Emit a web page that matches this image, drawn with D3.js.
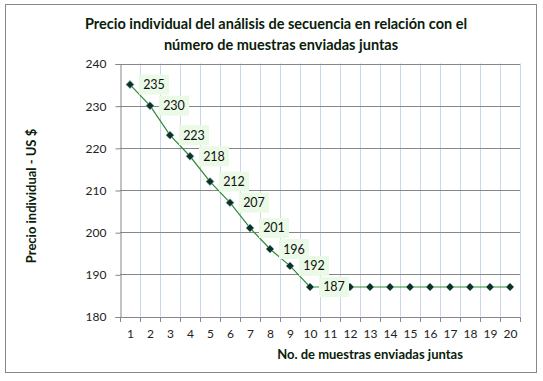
<!DOCTYPE html>
<html>
<head>
<meta charset="utf-8">
<script src="https://cdn.jsdelivr.net/npm/d3@7"></script>
<style>
  body { margin: 0; background: #fff; }
  svg { display: block; font-family: Lato, "Open Sans", sans-serif; }
</style>
</head>
<body>
<svg id="chart" width="543" height="381"></svg>
<script>
const muestras = d3.range(1, 21);
const precios = [235, 230, 223, 218, 212, 207, 201, 196, 192, 187,
                 187, 187, 187, 187, 187, 187, 187, 187, 187, 187];
const etiquetas = [235, 230, 223, 218, 212, 207, 201, 196, 192, 187];
const yTicks = [180, 190, 200, 210, 220, 230, 240];

const svg = d3.select("#chart");
const plotL = 120, plotR = 520, plotT = 63.5, plotB = 316.5;

// outer frame
svg.append("rect")
  .attr("x", 5.5).attr("y", 4.5)
  .attr("width", 531).attr("height", 368)
  .attr("fill", "#fff").attr("stroke", "#888").attr("stroke-width", 1);

const x = d3.scaleBand().domain(muestras).range([plotL, plotR]);
const y = d3.scaleLinear().domain([180, 240]).range([plotB, plotT]);

// vertical grid (category boundaries)
svg.append("g").selectAll("line")
  .data(muestras.slice(1).concat([21]))
  .join("line")
  .attr("x1", d => Math.round(x(d - 1) + x.bandwidth()) + 0.5)
  .attr("x2", d => Math.round(x(d - 1) + x.bandwidth()) + 0.5)
  .attr("y1", plotT).attr("y2", plotB)
  .attr("stroke", "#c6d7ee");

// horizontal grid
svg.append("g").selectAll("line")
  .data(yTicks.slice(1))
  .join("line")
  .attr("x1", plotL).attr("x2", plotR)
  .attr("y1", d => Math.round(y(d)) + 0.5)
  .attr("y2", d => Math.round(y(d)) + 0.5)
  .attr("stroke", "#868686");

// y axis
const yAxis = svg.append("g")
  .attr("transform", `translate(${plotL + 0.5},0.5)`)
  .call(d3.axisLeft(y).tickValues(yTicks).tickSize(5).tickPadding(9));
yAxis.selectAll("line, path").attr("stroke", "#868686");
yAxis.selectAll("text").attr("font-size", 12).attr("fill", "#222")
  .attr("font-family", "Lato, sans-serif");

// x axis with ticks at band boundaries
const xAxis = svg.append("g")
  .attr("transform", `translate(0.5,${plotB + 0.5})`)
  .call(d3.axisBottom(x).tickSize(0).tickPadding(12));
xAxis.select("path").attr("stroke", "#868686");
xAxis.selectAll("text").attr("font-size", 12).attr("fill", "#222")
  .attr("font-family", "Lato, sans-serif");
xAxis.selectAll("line.edge")
  .data([0].concat(muestras))
  .join("line")
  .attr("class", "edge")
  .attr("x1", d => Math.round(d === 0 ? plotL : x(d) + x.bandwidth()))
  .attr("x2", d => Math.round(d === 0 ? plotL : x(d) + x.bandwidth()))
  .attr("y1", 0).attr("y2", 5)
  .attr("stroke", "#868686");

// line
const cx = d => x(d) + x.bandwidth() / 2;
svg.append("path")
  .datum(muestras)
  .attr("fill", "none")
  .attr("stroke", "#2e8b2e")
  .attr("stroke-width", 1.2)
  .attr("d", d3.line().x(d => cx(d)).y((d, i) => y(precios[i])));

// markers
svg.append("g").selectAll("path")
  .data(muestras)
  .join("path")
  .attr("transform", (d, i) => `translate(${cx(d)},${y(precios[i])})`)
  .attr("d", d3.symbol(d3.symbolDiamond2, 40))
  .attr("fill", "#0b3322")
  .attr("stroke", "#7f9fc0")
  .attr("stroke-width", 0.6);

// data labels
const lab = svg.append("g").selectAll("g")
  .data(etiquetas)
  .join("g")
  .attr("transform", (d, i) => `translate(${cx(muestras[i]) + 9},${y(d)})`);
lab.append("rect")
  .attr("x", 0).attr("y", -10)
  .attr("width", 30).attr("height", 20)
  .attr("fill", "#ebfae6");
lab.append("text")
  .attr("x", 15).attr("y", 4.5)
  .attr("text-anchor", "middle")
  .attr("font-size", 12.5)
  .attr("fill", "#111")
  .text(d => d);

// titles
const titulo = svg.append("text")
  .attr("x", 278).attr("text-anchor", "middle")
  .attr("font-size", 14.5).attr("font-weight", "bold").attr("fill", "#0a200a");
titulo.append("tspan").attr("x", 276).attr("y", 29)
  .text("Precio individual del análisis de secuencia en relación con el");
titulo.append("tspan").attr("x", 281).attr("y", 50)
  .text("número de muestras enviadas juntas");

svg.append("text")
  .attr("x", 370).attr("y", 359)
  .attr("text-anchor", "middle")
  .attr("font-size", 13).attr("font-weight", "bold").attr("fill", "#0a200a")
  .text("No. de muestras enviadas juntas");

svg.append("text")
  .attr("transform", "translate(36,196) rotate(-90)")
  .attr("text-anchor", "middle")
  .attr("font-size", 13).attr("font-weight", "bold").attr("fill", "#0a200a")
  .text("Precio individual - US $");
</script>
</body>
</html>
